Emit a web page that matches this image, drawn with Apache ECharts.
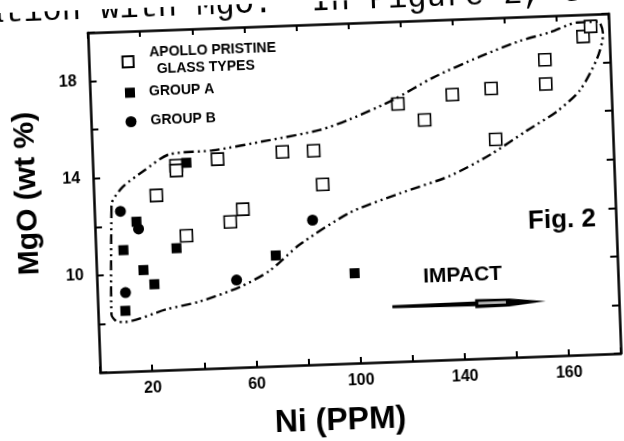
<!DOCTYPE html>
<html>
<head>
<meta charset="utf-8">
<script src="https://cdn.jsdelivr.net/npm/echarts@6/dist/echarts.min.js"></script>
<style>
html,body{margin:0;padding:0;background:#fff;overflow:hidden;}
#chart{width:624px;height:441px;transform:rotate(-2.1deg);transform-origin:356.5px 198.5px;}
</style>
</head>
<body>
<div id="chart"></div>
<script>
// ---- data (Ni in PPM, MgO in wt %) ----
const apolloNi  = [24, 32, 32, 48, 73, 85, 88, 35, 52, 57, 118, 128, 139, 154, 155, 175, 175, 190, 193];
const apolloMgO = [13.2, 14.4, 14.2, 14.6, 14.8, 14.8, 13.4, 11.5, 12.0, 12.5, 16.6, 15.9, 16.9, 17.1, 15.0, 17.2, 18.2, 19.1, 19.5];
const groupANi  = [36, 16, 10.6, 31, 69, 18, 22, 10.5, 99];
const groupAMgO = [14.5, 12.15, 11.0, 11.0, 10.55, 10.15, 9.55, 8.5, 9.7];
const groupBNi  = [10, 16.7, 10.8, 53.6, 83.6];
const groupBMgO = [12.6, 11.85, 9.25, 9.6, 11.95];
// envelope drawn round the apollo field
const envNi  = [6.6, 5.1, 6.9, 10.0, 26.3, 39.1, 54.6, 66.4, 78.3, 98.0, 117.5, 136.9, 152.6, 167.1, 179.0, 188.1, 195.1, 197.7, 196.0, 187.9, 177.4, 165.7, 150.2, 131.8, 116.1, 99.3, 87.7, 67.2, 46.3, 29.7, 19.1, 11.2, 6.7, 6.6];
const envMgO = [12.74, 8.38, 8.09, 8.04, 8.5, 8.77, 9.3, 9.93, 10.96, 12.2, 12.92, 13.56, 14.37, 15.31, 16.06, 16.9, 18.18, 19.17, 19.69, 19.68, 19.32, 19.01, 18.43, 17.63, 16.77, 16.04, 15.65, 15.29, 14.97, 14.88, 14.2, 13.6, 12.94, 12.74];
// impact arrow (Ni from -> to, at MgO)
const arrowNi  = [113, 172];
const arrowMgO = [8.26, 8.26];
// text notes
const noteNi   = [140.4, 179.3];
const noteMgO  = [9.45, 11.57];
const noteText = ['IMPACT', 'Fig. 2'];
// tick labels as printed
const xLabelValues = [20, 60, 100, 140, 180];
const xLabelTexts  = ['20', '60', '100', '140', '160'];
const yLabelValues = [10, 14, 18];
const yLabelTexts  = ['10', '14', '18'];
const seriesNames = ['APOLLO PRISTINE\nGLASS TYPES', 'GROUP A', 'GROUP B'];
const pageText = 'ation with MgO.  In Figure 2, t';

const zip = (a, b) => a.map((v, i) => [v, b[i]]);
const FONT = '"Liberation Sans", Arial, sans-serif';

const chart = echarts.init(document.getElementById('chart'), null, {renderer: 'canvas'});

const axisCommon = {
  type: 'value', min: 0, max: 200, interval: 20,
  axisLine: {show: true, onZero: false, lineStyle: {color: '#000', width: 2.5}},
  axisTick: {show: true, inside: true, length: 6, lineStyle: {color: '#000', width: 2}},
  splitLine: {show: false}
};
const yCommon = {
  type: 'value', min: 6, max: 20, interval: 2,
  axisLine: {show: true, onZero: false, lineStyle: {color: '#000', width: 2.5}},
  axisTick: {show: true, inside: true, length: 7, lineStyle: {color: '#000', width: 2}},
  splitLine: {show: false}
};

const LFS = 14;
function legendFor(name, left, top, padLeft, extra) {
  return Object.assign({
    data: [name], orient: 'vertical', left: left, top: top,
    itemWidth: 11, itemHeight: 11, selectedMode: false,
    textStyle: {color: '#000', fontFamily: FONT, fontWeight: 'bold', fontSize: LFS, lineHeight: 17, padding: [0, 0, 0, padLeft]}
  }, extra || {});
}

chart.setOption({
  animation: false,
  backgroundColor: '#fff',
  grid: {left: 94.1, right: 9.1, top: 23, bottom: 65},
  graphic: [{
    type: 'text', left: -8, top: -15,
    style: {text: pageText, font: '32px "Liberation Mono", monospace', fill: '#000'}
  }],
  legend: [
    legendFor(seriesNames[0], 121.7, 31.4, 11, {
      formatter: () => '{a|APOLLO PRISTINE}\n{b|GLASS TYPES}',
      textStyle: {color: '#000', fontFamily: FONT, fontWeight: 'bold', fontSize: LFS, lineHeight: 17, padding: [0, 0, 0, 11],
        rich: {a: {fontFamily: FONT, fontWeight: 'bold', fontSize: LFS, lineHeight: 17}, b: {fontFamily: FONT, fontWeight: 'bold', fontSize: LFS, lineHeight: 17, padding: [0, 0, 0, 7]}}}
    }),
    legendFor(seriesNames[1], 124, 71, 9, {itemWidth: 10, itemHeight: 10}),
    legendFor(seriesNames[2], 123.5, 100, 9)
  ],
  xAxis: [
    Object.assign({}, axisCommon, {
      position: 'bottom',
      name: 'Ni (PPM)', nameLocation: 'middle', nameGap: 41,
      nameTextStyle: {color: '#000', fontFamily: FONT, fontWeight: 'bold', fontSize: 32, padding: [0, 44, 0, 0]},
      axisLabel: {
        color: '#000', fontFamily: FONT, fontWeight: 'bold', fontSize: 16, margin: 10,
        formatter: v => { const i = xLabelValues.indexOf(v); return i >= 0 ? xLabelTexts[i] : ''; }
      }
    }),
    Object.assign({}, axisCommon, {position: 'top', axisLabel: {show: false}})
  ],
  yAxis: [
    Object.assign({}, yCommon, {
      position: 'left',
      name: 'MgO (wt %)', nameLocation: 'middle', nameGap: 51, nameRotate: 90,
      nameTextStyle: {color: '#000', fontFamily: FONT, fontWeight: 'bold', fontSize: 30, padding: [0, 0, 0, 23]},
      axisLabel: {
        color: '#000', fontFamily: FONT, fontWeight: 'bold', fontSize: 16, margin: 13,
        formatter: v => { const i = yLabelValues.indexOf(v); return i >= 0 ? yLabelTexts[i] : ''; }
      }
    }),
    Object.assign({}, yCommon, {position: 'right', axisLabel: {show: false}})
  ],
  series: [
    {
      name: 'envelope', type: 'line', data: zip(envNi, envMgO), smooth: 0.25,
      showSymbol: false, symbol: 'none', silent: true,
      lineStyle: {color: '#000', width: 2.4, type: [10, 4, 2, 4, 2, 4]}
    },
    {
      name: seriesNames[0], type: 'scatter', data: zip(apolloNi, apolloMgO),
      symbol: 'rect', symbolSize: 12,
      itemStyle: {color: '#fff', borderColor: '#000', borderWidth: 1.6, opacity: 1}
    },
    {
      name: seriesNames[1], type: 'scatter', data: zip(groupANi, groupAMgO),
      symbol: 'rect', symbolSize: 10,
      itemStyle: {color: '#000', opacity: 1}
    },
    {
      name: seriesNames[2], type: 'scatter', data: zip(groupBNi, groupBMgO),
      symbol: 'circle', symbolSize: 11,
      itemStyle: {color: '#000', opacity: 1}
    },
    {
      name: 'impact', type: 'custom', silent: true,
      data: [[arrowNi[0], arrowMgO[0], arrowNi[1], arrowMgO[1]]],
      renderItem: function (params, api) {
        const a = api.coord([api.value(0), api.value(1)]);
        const b = api.coord([api.value(2), api.value(3)]);
        const L = b[0] - a[0];
        const y = a[1];
        const p = f => a[0] + L * f;
        const pts = [
          [a[0], y - 1.5], [p(0.54), y - 2.4], [p(0.54), y - 4.5], [p(0.76), y - 4],
          [b[0], y], [p(0.76), y + 4], [p(0.54), y + 4.5], [p(0.54), y + 2.4], [a[0], y + 1.5]
        ];
        return {
          type: 'group',
          children: [
            {type: 'polygon', shape: {points: pts}, style: {fill: '#000'}},
            {type: 'rect', shape: {x: p(0.56), y: y - 1.8, width: L * 0.18, height: 2.6}, style: {fill: '#bbb'}}
          ]
        };
      }
    },
    {
      name: 'notes', type: 'scatter', symbolSize: 0, silent: true,
      itemStyle: {opacity: 1, color: '#000'},
      data: noteNi.map((v, i) => ({
        value: [v, noteMgO[i]],
        label: {show: true, position: 'inside', formatter: noteText[i], color: '#000', opacity: 1, fontFamily: FONT, fontWeight: 'bold', fontSize: i === 0 ? 21 : 26}
      }))
    }
  ]
});
</script>
</body>
</html>
